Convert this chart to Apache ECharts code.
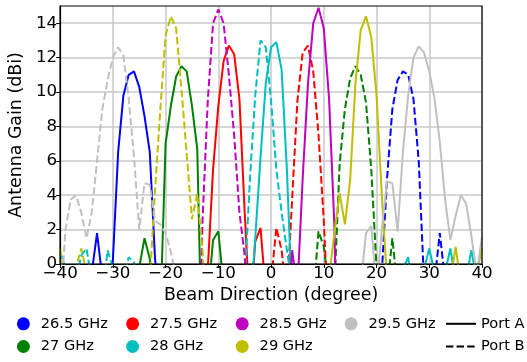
<!DOCTYPE html>
<html>
<head>
<meta charset="utf-8">
<script src="https://cdn.jsdelivr.net/npm/echarts@6/dist/echarts.min.js"></script>
<style>
  html, body { margin: 0; padding: 0; background: #ffffff; }
  #chart { width: 527px; height: 362px; }
</style>
</head>
<body>
<div id="chart"></div>
<script>
// Beam direction samples (degrees)
const angles = [
  -40, -39, -38, -37, -36, -35, -34, -33, -32, -31,
  -30, -29, -28, -27, -26, -25, -24, -23, -22, -21,
  -20, -19, -18, -17, -16, -15, -14, -13, -12, -11,
  -10, -9, -8, -7, -6, -5, -4, -3, -2, -1,
  0, 1, 2, 3, 4, 5, 6, 7, 8, 9,
  10, 11, 12, 13, 14, 15, 16, 17, 18, 19,
  20, 21, 22, 23, 24, 25, 26, 27, 28, 29,
  30, 31, 32, 33, 34, 35, 36, 37, 38, 39,
  40
];

const xTicks = [-40, -30, -20, -10, 0, 10, 20, 30, 40];
const yTicks = [0, 2, 4, 6, 8, 10, 12, 14];

const frequencies = ['26.5 GHz', '27 GHz', '27.5 GHz', '28 GHz', '28.5 GHz', '29 GHz', '29.5 GHz'];
const freqColors = ['#0000ff', '#008000', '#ff0000', '#00bfbf', '#bf00bf', '#bfbf00', '#c0c0c0'];
const ports = ['Port A', 'Port B'];

// Measured gain (dBi) per beam direction, one list per frequency and port
const gain265A = [
  -12, -10, -8, -9, -6, -4, -0.5, 1.8, -0.8, -6,
  0.2, 6.5, 9.8, 11.0, 11.2, 10.3, 8.6, 6.5, 0.3, -3,
  -10, -12, -9, -11, -13, -10, -9, -12, -10, -11,
  -13, -10, -12, -11, -9, -12, -10, -13, -11, -12,
  -10, -12, -11, -13, -10, -12, -9, -11, -12, -10,
  -13, -11, -10, -12, -14, -11, -10, -12, -13, -11,
  -10, -12, -11, -9, -12, -10, -13, -11, -12, -10,
  -11, -9, -12, -10, -13, -11, -10, -12, -9, -11,
  -10
];
const gain265B = [
  -11, -13, -10, -12, -9, -11, -12, -10, -13, -11,
  -10, -12, -9, -11, -13, -10, -12, -11, -10, -13,
  -12, -10, -11, -9, -12, -13, -10, -11, -12, -10,
  -11, -13, -10, -12, -11, -9, -12, -10, -13, -11,
  -12, -10, -11, -13, -9, -12, -10, -11, -12, -13,
  -10, -11, -12, -9, -13, -10, -11, -12, -10, -11,
  -8, -0.5, 5.0, 9.0, 10.7, 11.2, 11.0, 9.6, 6.0, -1,
  -6, -1, 1.8, -1, -8, -11, -10, -12, -9, -11,
  -12
];
const gain27A = [
  -12, -10, -11, -13, -9, -12, -10, -11, -13, -10,
  -12, -9, -11, -10, -12, -0.2, 1.5, 0.3, -3, -3,
  7.0, 9.2, 10.9, 11.5, 11.2, 9.2, 6.7, -6.7, -2.1, 1.4,
  1.9, -1.3, -8, -10, -12, -11, -9, -13, -10, -12,
  -11, -10, -12, -13, -9, -11, -10, -12, -11, -13,
  -10, -12, -11, -9, -12, -10, -13, -11, -12, -10,
  -11, -13, -10, -12, -11, -9, -12, -10, -13, -11,
  -12, -10, -11, -13, -10, -12, -9, -11, -12, -10,
  -11
];
const gain27B = [
  -10, -12, -11, -13, -10, -9, -12, -11, -10, -13,
  -11, -12, -10, -9, -13, -11, -12, -10, -11, -12,
  -13, -10, -11, -12, -9, -10, -13, -11, -12, -10,
  -11, -12, -10, -13, -11, -9, -12, -10, -11, -13,
  -10, -12, -11, -9, -13, -10, -12, -11, -1.9, 1.9,
  1.0, -1.5, -1.5, 5.8, 9.0, 10.8, 11.5, 11.0, 9.4, 5.5,
  -0.2, -5, -1.5, 1.5, -1.5, -8, -11, -10, -12, -9,
  -11, -13, -10, -12, -11, -10, -12, -13, -9, -11,
  -10
];
const gain275A = [
  -11, -12, -10, -13, -11, -9, -12, -10, -11, -13,
  -10, -12, -11, -9, -13, -10, -11, -12, -10, -13,
  -11, -12, -10, -9, -11, -13, -12, -10, -0.3, 5.5,
  9.2, 11.8, 12.7, 12.2, 9.6, 3.0, -3, 1.3, 2.1, -1.7,
  -8, -11, -10, -12, -13, -10, -11, -12, -9, -11,
  -10, -12, -13, -11, -10, -12, -9, -11, -13, -10,
  -12, -11, -10, -13, -11, -12, -10, -9, -11, -12,
  -13, -10, -11, -12, -10, -13, -11, -9, -12, -10,
  -11
];
const gain275B = [
  -12, -10, -11, -13, -9, -12, -10, -11, -12, -13,
  -10, -11, -12, -10, -13, -9, -11, -12, -10, -11,
  -13, -10, -12, -11, -9, -13, -10, -12, -11, -10,
  -12, -13, -11, -10, -12, -9, -11, -13, -10, -6,
  -1, 2.1, 0.8, -2, 3.8, 9.5, 12.3, 12.7, 11.2, 7.5,
  2.5, -4, -10, -12, -11, -13, -10, -12, -9, -11,
  -10, -12, -13, -11, -10, -12, -9, -11, -13, -10,
  -12, -11, -10, -13, -12, -10, -11, -9, -12, -13,
  -10
];
const gain28A = [
  -13, -11, -10, -12, -9, -11, -13, -10, -12, -11,
  -10, -12, -13, -11, -9, -10, -12, -11, -13, -10,
  -12, -11, -9, -13, -10, -12, -11, -10, -13, -12,
  -11, -10, -12, -9, -11, -13, -2.8, 1.5, 6.2, 10.5,
  12.6, 12.9, 11.3, 5.5, -2.4, -8, -11, -10, -12, -13,
  -10, -11, -12, -9, -13, -10, -12, -11, -10, -6,
  -4, -6, -5, -7, -4, -0.3, 0.4, -2, -3, -0.3,
  0.9, -0.5, -3, -0.5, 0.9, -1, -4, -0.8, 0.8, -1,
  -3
];
const gain28B = [
  0.7, -0.2, -4, -1, 0.5, 0.9, -1, -5, -2, 0.8,
  -0.2, -5, -1, 0.4, 0.1, -2, -6, -8, -10, -12,
  -11, -9, -13, -10, -12, -11, -10, -13, -12, -11,
  -9, -12, -10, -11, -6, -1, 5.0, 9.8, 13.0, 12.6,
  9.5, 5.5, 3.0, 0.8, -1.2, -7, -11, -10, -12, -13,
  -10, -11, -12, -9, -13, -10, -12, -11, -10, -13,
  -11, -12, -10, -9, -11, -13, -12, -10, -11, -9,
  -12, -10, -13, -11, -12, -10, -9, -11, -13, -12,
  -10
];
const gain285A = [
  -10, -12, -11, -13, -9, -10, -12, -11, -13, -10,
  -11, -12, -9, -10, -13, -11, -12, -10, -11, -13,
  -10, -12, -11, -9, -12, -13, -10, -11, -12, -10,
  -13, -11, -10, -12, -9, -11, -13, -10, -12, -11,
  -10, -12, -9, -4, 0.8, -1.5, 5.0, 10.5, 14.0, 14.9,
  13.7, 9.6, 2.3, -13, -11, -10, -12, -13, -9, -11,
  -10, -12, -11, -13, -10, -9, -12, -11, -10, -13,
  -11, -12, -10, -9, -13, -11, -10, -12, -11, -13,
  -10
];
const gain285B = [
  -11, -13, -10, -12, -9, -11, -10, -13, -12, -11,
  -10, -12, -9, -13, -11, -10, -12, -11, -13, -10,
  -12, -11, -9, -10, -13, -12, -10, 2.5, 9.5, 14.0,
  14.8, 14.0, 11.0, 7.5, 3.0, 0.5, -5, -10, -12, -11,
  -13, -10, -12, -11, -9, -10, -13, -12, -11, -10,
  -12, -9, -11, -13, -10, -12, -11, -10, -13, -9,
  -11, -12, -10, -13, -11, -9, -12, -10, -11, -13,
  -10, -12, -11, -9, -13, -10, -12, -11, -10, -12,
  -11
];
const gain29A = [
  -12, -11, -10, -13, -9, -12, -11, -10, -13, -12,
  -10, -11, -9, -12, -13, -10, -11, -12, -10, -13,
  -11, -9, -12, -10, -11, -13, -12, -10, -11, -9,
  -12, -13, -10, -11, -12, -10, -9, -13, -11, -12,
  -10, -11, -13, -12, -9, -10, -11, -12, -13, -10,
  -8, -0.8, 1.8, 4.1, 2.3, 4.9, 10.5, 13.6, 14.4, 13.2,
  9.8, 4.0, -1, -6, -10, -12, -11, -9, -13, -10,
  -12, -11, -10, -6, -1, 1.0, -1.2, -6, -4, -0.5,
  0.9
];
const gain29B = [
  0.9, -2, -5, -0.2, 0.9, -0.5, -6, -10, -12, -11,
  -13, -10, -9, -12, -11, -10, -6, -1, 4.3, 9.0,
  13.3, 14.4, 13.7, 10.2, 6.4, 2.6, 4.1, 0.8, -4, -10,
  -12, -11, -13, -10, -9, -12, -11, -10, -13, -12,
  -11, -10, -9, -12, -13, -11, -10, -12, -11, -9,
  -13, -10, -12, -11, -10, -13, -12, -9, -11, -10,
  -12, -13, -11, -10, -9, -12, -11, -13, -10, -12,
  -11, -9, -10, -13, -12, -11, -10, -12, -9, -11,
  -13
];
const gain295A = [
  -11, -12, -10, -13, -9, -11, -12, -10, -11, -13,
  -10, -12, -11, -9, -12, -13, -10, -11, -12, -10,
  -13, -11, -9, -12, -10, -11, -13, -12, -10, -11,
  -9, -12, -13, -10, -11, -12, -10, -13, -11, -9,
  -12, -10, -11, -13, -12, -10, -9, -11, -12, -13,
  -10, -11, -12, -9, -13, -10, -11, -1.2, 1.8, 2.2,
  -1.5, 2.0, 4.8, 4.7, 1.9, 6.5, 9.8, 12.0, 12.65, 12.3,
  11.2, 9.6, 7.1, 3.75, 1.4, 2.8, 4.0, 3.5, 1.6, -0.6,
  1.6
];
const gain295B = [
  -3, 2.0, 3.75, 4.0, 3.0, 1.5, 3.0, 6.0, 9.0, 10.7,
  12.0, 12.6, 12.1, 9.6, 6.3, 2.0, 4.7, 4.6, 2.5, 2.3,
  1.8, 0.7, -0.7, -6, -10, -12, -11, -13, -10, -9,
  -12, -11, -10, -13, -12, -11, -9, -10, -12, -13,
  -11, -10, -12, -9, -11, -13, -10, -12, -11, -10,
  -13, -12, -9, -11, -10, -12, -13, -11, -10, -12,
  -9, -11, -13, -10, -12, -11, -10, -9, -13, -12,
  -11, -10, -12, -13, -9, -11, -10, -12, -11, -13,
  -10
];

const gainByFreq = [
  [gain265A, gain265B],
  [gain27A, gain27B],
  [gain275A, gain275B],
  [gain28A, gain28B],
  [gain285A, gain285B],
  [gain29A, gain29B],
  [gain295A, gain295B]
];

const FONT = 'DejaVu Sans';
const DASH = [7.4, 3.2];

const series = [];
frequencies.forEach((freq, f) => {
  ports.forEach((port, p) => {
    const values = gainByFreq[f][p];
    series.push({
      name: freq + ' ' + port,
      type: 'line',
      data: angles.map((a, i) => [a, values[i]]),
      symbol: 'none',
      showSymbol: false,
      clip: true,
      color: freqColors[f],
      lineStyle: { width: 2, color: freqColors[f], type: p === 0 ? 'solid' : DASH },
      emphasis: { disabled: true },
      silent: true,
      z: 3
    });
  });
});

// Entries used only for the key below the plot
frequencies.forEach((freq, f) => {
  series.push({ name: freq, type: 'line', data: [], color: freqColors[f], symbol: 'none' });
});
series.push({ name: 'Port A', type: 'line', data: [], color: '#000', symbol: 'none',
  lineStyle: { width: 2, color: '#000', type: 'solid' } });
series.push({ name: 'Port B', type: 'line', data: [], color: '#000', symbol: 'none',
  lineStyle: { width: 2, color: '#000', type: DASH } });

const legendText = { fontFamily: FONT, fontSize: 14.6, color: '#000', lineHeight: 17 };
function freqLegend(left, names) {
  return {
    orient: 'vertical', left: left, top: 315.3, padding: 0,
    itemWidth: 24.8, itemHeight: 13, itemGap: 5.7,
    icon: 'circle', selectedMode: false,
    textStyle: legendText, data: names
  };
}

const chart = echarts.init(document.getElementById('chart'), null, { renderer: 'canvas' });
chart.setOption({
  animation: false,
  backgroundColor: '#ffffff',
  grid: {
    left: 53, right: 45, top: 6, bottom: 98,
    show: true, borderColor: '#000', borderWidth: 1.2, backgroundColor: 'transparent', z: 5
  },
  xAxis: {
    type: 'value', min: -40, max: 40, interval: 10,
    name: 'Beam Direction (degree)', nameLocation: 'middle', nameGap: 16,
    nameTextStyle: { fontFamily: FONT, fontSize: 17.4, color: '#000' },
    axisLine: { show: true, onZero: false, lineStyle: { color: '#000', width: 1.2 } },
    axisTick: { show: true, length: 4, lineStyle: { color: '#000' }, customValues: xTicks },
    axisLabel: {
      fontFamily: FONT, fontSize: 16.7, color: '#000', margin: 1, customValues: xTicks,
      formatter: v => String(v).replace('-', '\u2212')
    },
    splitLine: { show: true, lineStyle: { color: '#c8c8c8', width: 1.5 } }
  },
  yAxis: {
    type: 'value', min: 0, max: 15, interval: 2,
    name: 'Antenna Gain (dBi)', nameLocation: 'middle', nameGap: 25,
    nameTextStyle: { fontFamily: FONT, fontSize: 17.4, color: '#000' },
    axisLine: { show: true, onZero: false, lineStyle: { color: '#000', width: 1.2 } },
    axisTick: { show: true, length: 4, lineStyle: { color: '#000' }, customValues: yTicks },
    axisLabel: { fontFamily: FONT, fontSize: 16.7, color: '#000', margin: 3, customValues: yTicks },
    splitLine: { show: true, lineStyle: { color: '#c8c8c8', width: 1.5 } }
  },
  legend: [
    freqLegend(16.9, ['26.5 GHz', '27 GHz']),
    freqLegend(126.1, ['27.5 GHz', '28 GHz']),
    freqLegend(235.7, ['28.5 GHz', '29 GHz']),
    freqLegend(344.6, ['29.5 GHz']),
    {
      orient: 'vertical', left: 445, top: 315.3, padding: 0,
      itemWidth: 30, itemHeight: 13, itemGap: 5.7, selectedMode: false,
      itemStyle: { opacity: 0 },
      textStyle: legendText, data: ['Port A', 'Port B']
    }
  ],
  series: series
});
</script>
</body>
</html>
